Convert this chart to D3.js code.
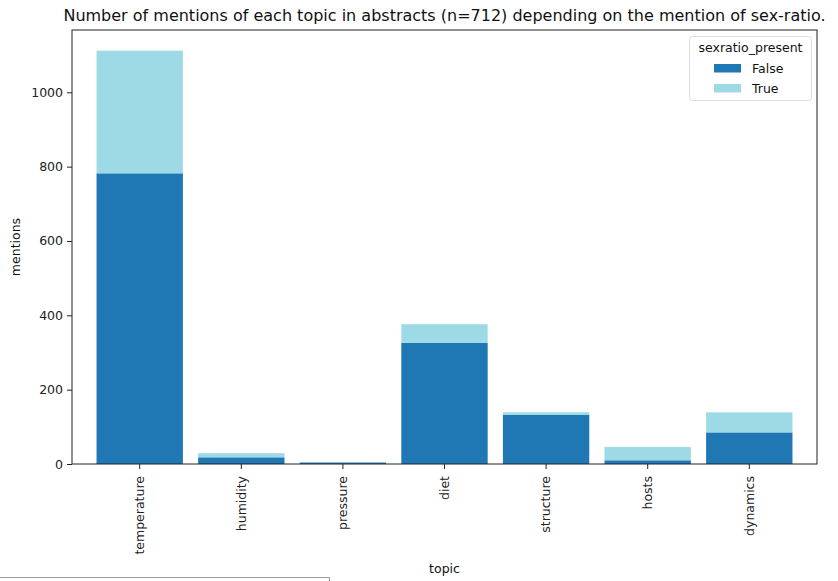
<!DOCTYPE html>
<html>
<head>
<meta charset="utf-8">
<script src="https://cdn.jsdelivr.net/npm/d3@7"></script>
<style>
  html, body { margin: 0; padding: 0; background: #fff; }
  svg { display: block; font-family: "DejaVu Sans", sans-serif; }
</style>
</head>
<body>
<svg id="chart" width="838" height="581"></svg>
<script>
// Topics and mention counts, split by whether the abstract mentions sex-ratio
const topics = ["temperature", "humidity", "pressure", "diet", "structure", "hosts", "dynamics"];
const mentionsFalse = [782, 18, 4, 326, 132, 10, 85];
const mentionsTrue = [330, 11, 0, 50, 7, 36, 54];
const seriesNames = ["False", "True"];
const seriesColors = ["#1f77b4", "#9edae5"];
const yTicks = [0, 200, 400, 600, 800, 1000];

const svg = d3.select("#chart");
const margin = { left: 72, right: 21, top: 30, bottom: 117 };
const W = 838, H = 581;
const x0 = margin.left, x1 = W - margin.right;
const y0 = H - margin.bottom, y1 = margin.top;

const rows = topics.map((t, i) => ({ topic: t, False: mentionsFalse[i], True: mentionsTrue[i] }));
const stacked = d3.stack().keys(seriesNames)(rows);
const maxTotal = d3.max(rows, d => d.False + d.True);

const x = d3.scaleBand().domain(topics).range([x0, x1])
  .paddingInner(0.15).paddingOuter(0.2415);
const y = d3.scaleLinear().domain([0, maxTotal * 1.05]).range([y0, y1]);

// Stacked bars
svg.append("g").selectAll("g")
  .data(stacked).join("g")
  .attr("fill", (d, i) => seriesColors[i])
  .selectAll("rect")
  .data(d => d).join("rect")
  .attr("x", d => x(d.data.topic))
  .attr("width", x.bandwidth())
  .attr("y", d => y(d[1]))
  .attr("height", d => y(d[0]) - y(d[1]));

// Axes
const yAxis = d3.axisLeft(y).tickValues(yTicks).tickSize(5).tickPadding(4).tickFormat(d3.format("d"));
const gy = svg.append("g").attr("transform", `translate(${x0},0)`).call(yAxis);
gy.select(".domain").remove();
gy.selectAll("text").attr("font-size", 12.5).attr("fill", "#222").attr("font-family", "DejaVu Sans");
gy.selectAll("line").attr("stroke", "#222");

const xAxis = d3.axisBottom(x).tickSize(5).tickPadding(4);
const gx = svg.append("g").attr("transform", `translate(0,${y0})`).call(xAxis);
gx.select(".domain").remove();
gx.selectAll("line").attr("stroke", "#222");
gx.selectAll("text")
  .attr("font-size", 12.5).attr("fill", "#222").attr("font-family", "DejaVu Sans")
  .attr("transform", "rotate(-90)")
  .attr("text-anchor", "end")
  .attr("x", -12).attr("y", 0).attr("dy", "0.35em");

// Frame
svg.append("rect").attr("x", x0).attr("y", y1).attr("width", x1 - x0).attr("height", y0 - y1)
  .attr("fill", "none").attr("stroke", "#222").attr("stroke-width", 1);

// Title and axis labels
svg.append("text").attr("x", (x0 + x1) / 2).attr("y", 21).attr("text-anchor", "middle")
  .attr("font-size", 16).attr("fill", "#111")
  .text("Number of mentions of each topic in abstracts (n=712) depending on the mention of sex-ratio.");
svg.append("text").attr("transform", `translate(20,${(y0 + y1) / 2}) rotate(-90)`)
  .attr("text-anchor", "middle").attr("font-size", 12.5).attr("fill", "#111").text("mentions");
svg.append("text").attr("x", (x0 + x1) / 2).attr("y", 573).attr("text-anchor", "middle")
  .attr("font-size", 12.5).attr("fill", "#111").text("topic");

// Legend
const lg = svg.append("g");
lg.append("rect").attr("x", 689.5).attr("y", 36.5).attr("width", 122).attr("height", 64).attr("rx", 3)
  .attr("fill", "#fff").attr("fill-opacity", 0.8).attr("stroke", "#ddd");
lg.append("text").attr("x", 750.5).attr("y", 52).attr("text-anchor", "middle")
  .attr("font-size", 12.5).attr("fill", "#111").text("sexratio_present");
seriesNames.forEach((name, i) => {
  lg.append("rect").attr("x", 714).attr("y", 64 + i * 20).attr("width", 27).attr("height", 8.5)
    .attr("fill", seriesColors[i]);
  lg.append("text").attr("x", 752).attr("y", 73 + i * 20).attr("font-size", 12.5)
    .attr("fill", "#111").text(name);
});

// Output cell border fragment at the bottom
svg.append("path").attr("d", "M0,577.5H329.5V581").attr("fill", "none").attr("stroke", "#999");
</script>
</body>
</html>
